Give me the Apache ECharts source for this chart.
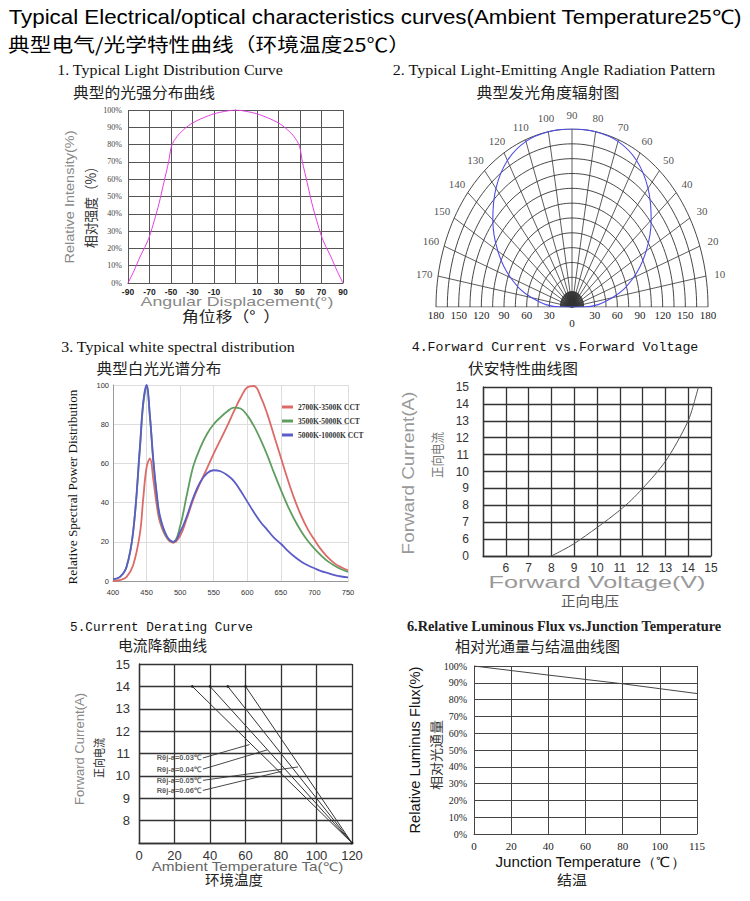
<!DOCTYPE html>
<html><head><meta charset="utf-8">
<script src="https://cdn.jsdelivr.net/npm/echarts@6.0.0/dist/echarts.min.js"></script>
<style>html,body{margin:0;padding:0;background:#fff;}#main{width:750px;height:901px;}</style>
</head><body><div id="main"></div>
<script>
// ================= DATA =================
// 1. Typical light distribution (positions on the evenly spaced angle grid)
const distAngle = [-90,-85,-80,-75,-72,-68,-64,-60,-56,-54,-52,-48,-42,-36,-27,-18,-9,0,9,18,27,36,42,48,52,54,56,60,64,68,72,75,80,85,90];
const distIntensity = [0,7,15,22,27,36,46,58,70,78,81.5,85.5,89.5,92.5,95.5,97.8,99.2,100,99.2,97.8,95.5,92.5,89.5,85.5,81.5,78,70,58,46,36,27,22,15,7,0];
const distTickLabels = ['-90','-70','-50','-30','-10','','10','30','50','70','90'];

// 2. Radiation pattern (off-axis angle in degrees, relative radius 0..1)
const radAngle = [-90,-80,-70,-60,-50,-40,-30,-20,-10,0,10,20,30,40,50,60,70,80,90];
const radIntensity = [0.08,0.3,0.48,0.63,0.76,0.87,0.95,0.99,1,1,1,0.99,0.95,0.87,0.76,0.63,0.48,0.3,0.08];
const radSpokeAngles = [10,20,30,40,50,60,70,80,90,100,110,120,130,140,150,160,170];
const radSpokeLabels = ['10','20','30','40','50','60','70','80','90','100','110','120','130','140','150','160','170'];

// 3. Spectral distribution
const waveLength = [400,410,420,430,440,445,450,455,460,465,470,480,490,500,510,520,530,540,550,560,570,580,590,600,610,620,630,640,650,660,670,680,690,700,710,720,730,740,750];
const spec2700 = [0,0.5,2,8,24,42,58,62.5,52,39,30,22,19.5,23,32,42,50,57.5,65,72,79,86.5,93.5,98.8,99.5,94,85,74,63,52,42,33.5,26.5,21,16,12,9,7,5.5];
const spec3500 = [1,2,7,25,67,90,99,84,61,44,32,22.5,20,28,44,59,68,75,80,83.5,86.5,88.5,88,84.5,79,72,64,55,46.5,38.5,31.5,25.5,20.5,16.5,13,10,7.8,6,4.7];
const spec5000 = [1,2,7,25,68,91,100,84,62,45,33,23,20,25,33,43,50.5,55,56.5,56,54,51,46,40.5,35,30,26,22,19,15.5,12.5,10,8,6.5,5,4,3,2.3,1.8];
const specNames = ['2700K-3500K CCT','3500K-5000K CCT','5000K-10000K CCT'];

// 4. Forward current vs forward voltage (bottom gridline is labelled 0)
const fwdVoltage = [8,8.5,9,9.5,10,10.5,11,11.5,12,12.5,13,13.5,14,14.2,14.45];
const fwdCurrent = [5,5.35,5.73,6.2,6.68,7.18,7.71,8.3,9,9.75,10.6,11.7,13,13.8,15];

// 5. Current derating
const deratStartTemp = [30,40,50,60];
const deratStartCurrent = [14,14,14,14];
const deratEndTemp = [120,120,120,120];
const deratEndCurrent = [7,7,7,7];
const deratLabels = ['Rθj-a=0.03℃','Rθj-a=0.04℃','Rθj-a=0.05℃','Rθj-a=0.06℃'];
const deratLabelAt = [[36,10.8],[36,10.3],[36,9.8],[36,9.35]];
const deratLeaderEnd = [[62.3,11.4],[72.2,11.16],[89.6,10.4],[80.2,10.2]];

// 6. Relative luminous flux vs junction temperature
const fluxTemp = [0,20,40,60,80,100,120];
const fluxValue = [100,97.3,94.6,92,89.4,86.5,83.6];
const fluxTickLabels = ['0','20','40','60','80','100','115'];

// ================= HELPERS =================
const SANS = 'Liberation Sans', SERIF = 'Liberation Serif', MONO = 'Liberation Mono', CJK = 'Noto Sans CJK SC';
const mctx = document.createElement('canvas').getContext('2d');
function T(text, x, y, o) {
  const size = o.size, fam = o.fam, wt = o.weight || 'normal';
  let sx = 1;
  if (o.w) { mctx.font = wt + ' ' + size + 'px "' + fam + '"'; sx = o.w / mctx.measureText(text).width; }
  return { type: 'text', x: x, y: y, rotation: o.rot ? Math.PI / 2 : 0, scaleX: sx, scaleY: 1, silent: true,
    style: { text: text, fontSize: size, fontFamily: fam, fontWeight: wt, fill: o.color || '#111',
      textAlign: 'center', textVerticalAlign: 'middle', align: 'center', verticalAlign: 'middle' } };
}
const D2R = Math.PI / 180;

// polar grid drawn in a stretched cartesian frame (-180..180 x 0..180)
const ringCoords = [];
for (let k = 1; k <= 12; k++) {
  const r = 180 * k / 12, pts = [];
  for (let t = 0; t <= 180; t += 2) pts.push([r * Math.cos(t * D2R), r * Math.sin(t * D2R)]);
  ringCoords.push({ coords: pts });
}
const spokeCoords = [];
for (let t = 0; t <= 180; t += 10) spokeCoords.push({ coords: [[0, 0], [180 * Math.cos(t * D2R), 180 * Math.sin(t * D2R)]] });
for (let t = 2.5; t < 180; t += 2.5) spokeCoords.push({ coords: [[0, 0], [16 * Math.cos(t * D2R), 16 * Math.sin(t * D2R)]] });
const radCurve = [[0, 0]].concat(radAngle.map((p, i) => [180 * radIntensity[i] * Math.sin(p * D2R), 180 * radIntensity[i] * Math.cos(p * D2R)])).concat([[0, 0]]);
const spokeLabelData = radSpokeAngles.map((t, i) => ({
  value: [180 * Math.cos(t * D2R), 180 * Math.sin(t * D2R)],
  label: { formatter: radSpokeLabels[i], offset: [14 * Math.cos(t * D2R), -14 * Math.sin(t * D2R)] }
}));

// ================= OPTION =================
const chart = echarts.init(document.getElementById('main'), null, { renderer: 'svg' });
const gridDark = { show: true, lineStyle: { color: '#333', width: 1.3 } };
const option = {
  animation: false,
  backgroundColor: '#fff',
  grid: [
    { left: 128, top: 110, width: 215, height: 173 },
    { left: 436, top: 129, width: 272, height: 178 },
    { left: 113, top: 385, width: 235, height: 196 },
    { left: 483, top: 387, width: 228, height: 169 },
    { left: 139, top: 664, width: 213, height: 179 },
    { left: 474, top: 666, width: 223, height: 168 }
  ],
  legend: {
    data: specNames, left: 277, top: 398, orient: 'vertical', itemWidth: 11, itemHeight: 3, itemGap: 6, icon: 'rect',
    textStyle: { fontSize: 7.5, fontFamily: SERIF, color: '#333', fontWeight: 'bold' }
  },
  xAxis: [
    { gridIndex: 0, type: 'value', min: -90, max: 90, interval: 18,
      axisLine: { show: true, lineStyle: { color: '#555', width: 1 } }, axisTick: { show: false },
      splitLine: { show: true, lineStyle: { color: '#555', width: 1 } },
      axisLabel: { fontSize: 8.5, color: '#222', fontFamily: SANS, fontWeight: 'bold', margin: 4,
        formatter: v => distTickLabels[Math.round((v + 90) / 18)] } },
    { gridIndex: 1, type: 'value', min: -180, max: 180, interval: 30,
      axisLine: { show: false }, axisTick: { show: false }, splitLine: { show: false },
      axisLabel: { fontSize: 11, color: '#222', fontFamily: SERIF, margin: 2,
        formatter: v => v === 0 ? '{z|0}' : String(Math.abs(v)), rich: { z: { padding: [8, 0, 0, 0], fontSize: 11, fontFamily: SERIF, color: '#222' } } } },
    { gridIndex: 2, type: 'value', min: 400, max: 750, interval: 50,
      axisLine: { show: true, lineStyle: { color: '#999', width: 1 } }, axisTick: { show: false },
      splitLine: { show: true, lineStyle: { color: '#ddd', width: 1 } },
      axisLabel: { fontSize: 7.5, color: '#333', fontFamily: SANS, margin: 7 } },
    { gridIndex: 3, type: 'value', min: 5, max: 15, interval: 1,
      axisLine: { show: true, lineStyle: { color: '#333', width: 1.3 } }, axisTick: { show: false }, splitLine: gridDark,
      axisLabel: { fontSize: 12, color: '#333', fontFamily: SANS, margin: 6, formatter: v => v === 5 ? '' : String(v) } },
    { gridIndex: 4, type: 'value', min: 0, max: 120, interval: 20,
      axisLine: { show: true, lineStyle: { color: '#333', width: 1.3 } }, axisTick: { show: false }, splitLine: gridDark,
      axisLabel: { fontSize: 13, color: '#333', fontFamily: SANS, margin: 6 } },
    { gridIndex: 5, type: 'value', min: 0, max: 120, interval: 20,
      axisLine: { show: true, lineStyle: { color: '#444', width: 1 } }, axisTick: { show: false },
      splitLine: { show: true, lineStyle: { color: '#444', width: 1 } },
      axisLabel: { fontSize: 11, color: '#222', fontFamily: SERIF, margin: 6,
        formatter: v => fluxTickLabels[Math.round(v / 20)] } }
  ],
  yAxis: [
    { gridIndex: 0, type: 'value', min: 0, max: 100, interval: 10,
      axisLine: { show: true, lineStyle: { color: '#555', width: 1 } }, axisTick: { show: false },
      splitLine: { show: true, lineStyle: { color: '#555', width: 1 } },
      axisLabel: { fontSize: 8, color: '#444', fontFamily: SERIF, margin: 6, formatter: '{value}%' } },
    { gridIndex: 1, type: 'value', min: 0, max: 180, show: false },
    { gridIndex: 2, type: 'value', min: 0, max: 100, interval: 20,
      axisLine: { show: true, lineStyle: { color: '#999', width: 1 } }, axisTick: { show: false },
      splitLine: { show: true, lineStyle: { color: '#ddd', width: 1 } },
      axisLabel: { fontSize: 7.5, color: '#333', fontFamily: SANS, margin: 4 } },
    { gridIndex: 3, type: 'value', min: 5, max: 15, interval: 1,
      axisLine: { show: true, lineStyle: { color: '#333', width: 1.3 } }, axisTick: { show: false }, splitLine: gridDark,
      axisLabel: { fontSize: 12, color: '#333', fontFamily: SANS, margin: 14, formatter: v => v === 5 ? '0' : String(v) } },
    { gridIndex: 4, type: 'value', min: 7, max: 15, interval: 1,
      axisLine: { show: true, lineStyle: { color: '#333', width: 1.3 } }, axisTick: { show: false }, splitLine: gridDark,
      axisLabel: { fontSize: 13, color: '#333', fontFamily: SANS, margin: 9, formatter: v => v === 7 ? '' : String(v) } },
    { gridIndex: 5, type: 'value', min: 0, max: 100, interval: 10,
      axisLine: { show: true, lineStyle: { color: '#444', width: 1 } }, axisTick: { show: false },
      splitLine: { show: true, lineStyle: { color: '#444', width: 1 } },
      axisLabel: { fontSize: 10, color: '#222', fontFamily: SERIF, margin: 7, formatter: '{value}%' } }
  ],
  series: [
    // 1
    { type: 'line', xAxisIndex: 0, yAxisIndex: 0, data: distAngle.map((a, i) => [a, distIntensity[i]]),
      smooth: 0.25, showSymbol: false, lineStyle: { color: '#e23fe2', width: 1 } },
    // 2 polar grid
    { type: 'lines', coordinateSystem: 'cartesian2d', xAxisIndex: 1, yAxisIndex: 1, polyline: true, silent: true,
      data: ringCoords, lineStyle: { color: '#333', width: 0.9, opacity: 1, curveness: 0 } },
    { type: 'lines', coordinateSystem: 'cartesian2d', xAxisIndex: 1, yAxisIndex: 1, polyline: true, silent: true,
      data: spokeCoords, lineStyle: { color: '#333', width: 0.8, opacity: 1, curveness: 0 } },
    { type: 'line', xAxisIndex: 1, yAxisIndex: 1, data: radCurve, smooth: 0.4, showSymbol: false,
      lineStyle: { color: '#4d4de6', width: 1.1 } },
    { type: 'scatter', xAxisIndex: 1, yAxisIndex: 1, data: spokeLabelData, symbolSize: 0, silent: true,
      label: { show: true, position: 'inside', fontSize: 11, fontFamily: SERIF, color: '#222' } },
    // 3
    { type: 'line', name: specNames[0], xAxisIndex: 2, yAxisIndex: 2, data: waveLength.map((w, i) => [w, spec2700[i]]),
      smooth: 0.4, showSymbol: false, color: '#dc6a66', lineStyle: { color: '#dc6a66', width: 1.8 } },
    { type: 'line', name: specNames[1], xAxisIndex: 2, yAxisIndex: 2, data: waveLength.map((w, i) => [w, spec3500[i]]),
      smooth: 0.4, showSymbol: false, color: '#5f9e5f', lineStyle: { color: '#5f9e5f', width: 1.8 } },
    { type: 'line', name: specNames[2], xAxisIndex: 2, yAxisIndex: 2, data: waveLength.map((w, i) => [w, spec5000[i]]),
      smooth: 0.4, showSymbol: false, color: '#5c5cc8', lineStyle: { color: '#5c5cc8', width: 1.8 } },
    // 4
    { type: 'line', xAxisIndex: 3, yAxisIndex: 3, data: fwdVoltage.map((v, i) => [v, fwdCurrent[i]]),
      smooth: 0.3, showSymbol: false, lineStyle: { color: '#555', width: 1 } },
    // 5
    ...deratStartTemp.map((t, i) => ({ type: 'line', xAxisIndex: 4, yAxisIndex: 4,
      data: [[t, deratStartCurrent[i]], [deratEndTemp[i], deratEndCurrent[i]]],
      showSymbol: true, symbol: 'circle', symbolSize: 2.5, itemStyle: { color: '#222' }, lineStyle: { color: '#333', width: 1 } })),
    { type: 'lines', coordinateSystem: 'cartesian2d', xAxisIndex: 4, yAxisIndex: 4, silent: true,
      data: deratLabelAt.map((p, i) => ({ coords: [p, deratLeaderEnd[i]] })), lineStyle: { color: '#333', width: 0.9, opacity: 1, curveness: 0 } },
    { type: 'scatter', xAxisIndex: 4, yAxisIndex: 4, symbolSize: 0, silent: true,
      data: deratLabelAt.map((p, i) => ({ value: p, label: { formatter: deratLabels[i] } })),
      label: { show: true, position: 'left', distance: 2, fontSize: 7.5, fontFamily: SANS, fontWeight: 'bold', color: '#333' } },
    // 6
    { type: 'line', xAxisIndex: 5, yAxisIndex: 5, data: fluxTemp.map((t, i) => [t, fluxValue[i]]),
      showSymbol: false, lineStyle: { color: '#444', width: 1 } }
  ],
  graphic: [
    T('Typical Electrical/optical characteristics curves(Ambient Temperature25℃)', 375, 17, { size: 20, fam: SANS, w: 734, color: '#000' }),
    T('典型电气/光学特性曲线（环境温度25℃）', 209, 44, { size: 19, fam: CJK, w: 402, color: '#000' }),
    T('1. Typical Light Distribution Curve', 170, 70, { size: 15, fam: SERIF, w: 226 }),
    T('典型的光强分布曲线', 144, 91, { size: 15, fam: CJK, w: 142, color: '#222' }),
    T('2. Typical Light-Emitting Angle Radiation Pattern', 554, 70, { size: 15, fam: SERIF, w: 324 }),
    T('典型发光角度辐射图', 548, 91, { size: 15, fam: CJK, w: 143, color: '#222' }),
    T('3. Typical white spectral distribution', 178, 347, { size: 15, fam: SERIF, w: 234 }),
    T('典型白光光谱分布', 159, 367.5, { size: 15, fam: CJK, w: 125, color: '#222' }),
    T('4.Forward Current vs.Forward Voltage', 555, 348, { size: 13, fam: MONO, w: 287 }),
    T('伏安特性曲线图', 523, 367, { size: 15, fam: CJK, w: 110, color: '#222' }),
    T('5.Current Derating Curve', 161.5, 627, { size: 13, fam: MONO, w: 183 }),
    T('电流降额曲线', 162.5, 644.5, { size: 15, fam: CJK, w: 89, color: '#222' }),
    T('6.Relative Luminous Flux vs.Junction Temperature', 564, 626, { size: 14, fam: SERIF, w: 315, weight: 'bold', color: '#222' }),
    T('相对光通量与结温曲线图', 537.5, 645, { size: 15, fam: CJK, w: 165, color: '#222' }),
    // axis names
    T('Relative Intensity(%)', 70, 197, { size: 13, fam: SANS, color: '#888', rot: true, w: 133 }),
    T('相对强度（%）', 90, 204, { size: 14, fam: CJK, color: '#333', rot: true, w: 88 }),
    T('Angular Displacement(°)', 237, 301, { size: 13, fam: SANS, color: '#888', w: 193 }),
    T('角位移（°  ）', 231, 316, { size: 15, fam: CJK, color: '#222', w: 98 }),
    T('Relative Spectral Power Distribution', 73, 487, { size: 12.5, fam: SERIF, color: '#111', rot: true, w: 195 }),
    T('Forward Current(A)', 408, 473, { size: 17, fam: SANS, color: '#999', rot: true, w: 163 }),
    T('正向电流', 437, 455, { size: 13, fam: CJK, color: '#777', rot: true, w: 46 }),
    T('Forward Voltage(V)', 597, 582, { size: 17, fam: SANS, color: '#999', w: 217 }),
    T('正向电压', 590, 600, { size: 14, fam: CJK, color: '#555', w: 58 }),
    T('Forward Current(A)', 80, 749, { size: 12, fam: SANS, color: '#888', rot: true, w: 112 }),
    T('正向电流', 99, 758, { size: 12, fam: CJK, color: '#333', rot: true, w: 40 }),
    T('Ambient Temperature Ta(℃)', 247.5, 867, { size: 12, fam: SANS, color: '#666', w: 192 }),
    T('环境温度', 234, 878.5, { size: 14, fam: CJK, color: '#222', w: 58 }),
    T('Relative Luminus Flux(%)', 415, 750, { size: 14, fam: SANS, color: '#111', rot: true, w: 167 }),
    T('相对光通量', 435, 755, { size: 13, fam: CJK, color: '#333', rot: true, w: 70 }),
    T('Junction Temperature（℃）', 591, 862, { size: 14, fam: SANS, color: '#111', w: 190 }),
    T('结温', 572, 879, { size: 14, fam: CJK, color: '#222', w: 30 })
  ]
};
chart.setOption(option);
</script>
</body></html>
